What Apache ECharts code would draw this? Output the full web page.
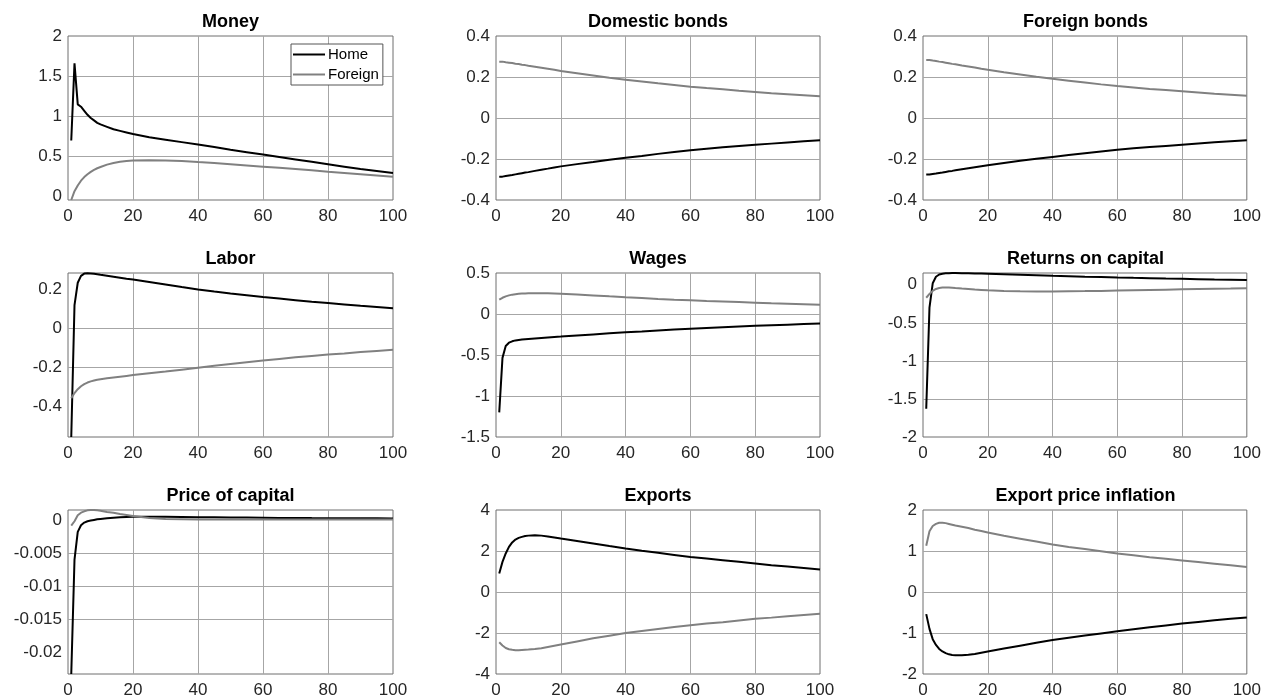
<!DOCTYPE html>
<html>
<head>
<meta charset="utf-8">
<script src="https://cdn.jsdelivr.net/npm/echarts@6/dist/echarts.min.js"></script>
<style>html,body{margin:0;padding:0;background:#fff}#c{width:1264px;height:699px}</style>
</head>
<body>
<div id="c"></div>
<script>
const xs = [1,2,3,4,5,6,7,8,9,10,12,14,16,18,20,25,30,35,40,45,50,55,60,65,70,75,80,85,90,95,100];
const xTicks = [0,20,40,60,80,100];
const titles = ['Money','Domestic bonds','Foreign bonds','Labor','Wages','Returns on capital','Price of capital','Exports','Export price inflation'];
const seriesNames = ['Home','Foreign'];

const moneyHome = [0.70,1.66,1.15,1.12,1.07,1.02,0.98,0.95,0.92,0.90,0.87,0.84,0.82,0.80,0.78,0.74,0.71,0.68,0.65,0.62,0.585,0.555,0.525,0.495,0.465,0.435,0.405,0.375,0.345,0.32,0.295];
const moneyForeign = [-0.04,0.07,0.14,0.20,0.245,0.28,0.31,0.335,0.355,0.37,0.40,0.42,0.435,0.445,0.45,0.455,0.452,0.445,0.432,0.42,0.405,0.39,0.375,0.36,0.345,0.33,0.31,0.295,0.28,0.265,0.25];
const domBondsHome = [-0.286,-0.286,-0.283,-0.280,-0.278,-0.275,-0.272,-0.269,-0.266,-0.264,-0.258,-0.252,-0.247,-0.241,-0.236,-0.225,-0.215,-0.204,-0.194,-0.185,-0.175,-0.166,-0.157,-0.150,-0.143,-0.137,-0.131,-0.125,-0.119,-0.114,-0.109];
const domBondsForeign = [0.275,0.275,0.272,0.270,0.268,0.265,0.263,0.260,0.258,0.255,0.250,0.245,0.240,0.235,0.229,0.218,0.207,0.196,0.187,0.178,0.169,0.161,0.153,0.146,0.140,0.133,0.127,0.121,0.116,0.111,0.106];
const forBondsHome = [-0.276,-0.276,-0.273,-0.271,-0.268,-0.266,-0.263,-0.260,-0.258,-0.255,-0.250,-0.245,-0.240,-0.235,-0.230,-0.219,-0.208,-0.199,-0.190,-0.181,-0.172,-0.163,-0.155,-0.148,-0.142,-0.136,-0.130,-0.124,-0.118,-0.113,-0.108];
const forBondsForeign = [0.283,0.283,0.280,0.278,0.275,0.273,0.270,0.267,0.264,0.262,0.256,0.251,0.246,0.240,0.235,0.223,0.212,0.201,0.191,0.182,0.173,0.164,0.156,0.149,0.142,0.136,0.130,0.124,0.118,0.113,0.108];
const laborHome = [-0.555,0.12,0.235,0.27,0.282,0.284,0.283,0.281,0.279,0.276,0.271,0.266,0.261,0.256,0.252,0.239,0.226,0.213,0.201,0.19,0.18,0.171,0.162,0.154,0.146,0.138,0.131,0.124,0.117,0.111,0.105];
const laborForeign = [-0.356,-0.33,-0.31,-0.295,-0.284,-0.276,-0.27,-0.266,-0.262,-0.259,-0.254,-0.25,-0.246,-0.242,-0.238,-0.229,-0.22,-0.21,-0.2,-0.19,-0.181,-0.172,-0.163,-0.155,-0.147,-0.14,-0.133,-0.127,-0.12,-0.114,-0.108];
const wagesHome = [-1.2,-0.535,-0.39,-0.35,-0.333,-0.322,-0.316,-0.311,-0.307,-0.304,-0.298,-0.292,-0.286,-0.28,-0.275,-0.262,-0.249,-0.236,-0.224,-0.213,-0.201,-0.19,-0.18,-0.17,-0.161,-0.152,-0.144,-0.137,-0.13,-0.123,-0.117];
const wagesForeign = [0.175,0.198,0.215,0.227,0.236,0.242,0.246,0.249,0.251,0.253,0.254,0.254,0.252,0.249,0.246,0.237,0.227,0.215,0.204,0.194,0.184,0.175,0.167,0.159,0.152,0.145,0.138,0.131,0.125,0.119,0.113];
const returnsHome = [-1.63,-0.30,0.02,0.105,0.135,0.146,0.151,0.153,0.154,0.154,0.153,0.152,0.15,0.148,0.146,0.14,0.133,0.126,0.119,0.113,0.107,0.102,0.096,0.091,0.087,0.082,0.078,0.074,0.07,0.067,0.064];
const returnsForeign = [-0.17,-0.12,-0.08,-0.055,-0.042,-0.036,-0.035,-0.036,-0.039,-0.043,-0.05,-0.056,-0.062,-0.067,-0.072,-0.08,-0.085,-0.087,-0.087,-0.085,-0.083,-0.08,-0.076,-0.072,-0.068,-0.064,-0.06,-0.056,-0.052,-0.049,-0.045];
const priceKHome = [-0.02325,-0.006,-0.0018,-0.0008,-0.0004,-0.0002,-0.0001,0.0,0.0001,0.00015,0.00025,0.00033,0.0004,0.00045,0.0005,0.0005,0.00048,0.00045,0.00042,0.0004,0.00037,0.00035,0.00033,0.00031,0.0003,0.00028,0.00027,0.00026,0.00025,0.00024,0.00023];
const priceKForeign = [-0.00085,-0.0002,0.0007,0.0011,0.0013,0.00145,0.0015,0.0015,0.00145,0.0014,0.0012,0.0011,0.0009,0.00075,0.0006,0.0003,0.00015,0.0001,0.00005,0.00005,0.00005,0.00005,0.00005,0.00005,0.00005,0.00005,0.00005,0.00005,0.00005,0.00005,0.00005];
const exportsHome = [0.9,1.47,1.88,2.2,2.42,2.56,2.64,2.69,2.73,2.75,2.77,2.75,2.71,2.66,2.61,2.49,2.37,2.24,2.12,2.01,1.91,1.81,1.71,1.63,1.55,1.47,1.39,1.31,1.24,1.17,1.1];
const exportsForeign = [-2.45,-2.61,-2.73,-2.79,-2.82,-2.84,-2.84,-2.83,-2.82,-2.81,-2.78,-2.74,-2.68,-2.62,-2.56,-2.41,-2.26,-2.13,-2.0,-1.9,-1.8,-1.71,-1.62,-1.54,-1.47,-1.39,-1.31,-1.25,-1.18,-1.12,-1.06];
const expInflHome = [-0.54,-0.9,-1.15,-1.29,-1.39,-1.45,-1.49,-1.52,-1.535,-1.54,-1.54,-1.53,-1.51,-1.48,-1.45,-1.38,-1.31,-1.24,-1.17,-1.115,-1.06,-1.01,-0.96,-0.91,-0.86,-0.815,-0.77,-0.73,-0.69,-0.655,-0.62];
const expInflForeign = [1.13,1.48,1.61,1.66,1.69,1.69,1.68,1.66,1.64,1.62,1.59,1.56,1.52,1.49,1.45,1.37,1.30,1.23,1.16,1.10,1.05,0.995,0.94,0.895,0.85,0.81,0.77,0.73,0.69,0.65,0.61];

const homeData = [moneyHome, domBondsHome, forBondsHome, laborHome, wagesHome, returnsHome, priceKHome, exportsHome, expInflHome];
const foreignData = [moneyForeign, domBondsForeign, forBondsForeign, laborForeign, wagesForeign, returnsForeign, priceKForeign, exportsForeign, expInflForeign];

const yMins = [-0.04, -0.4, -0.4, -0.555, -1.5, -2, -0.02325, -4, -2];
const yMaxs = [2, 0.4, 0.4, 0.285, 0.5, 0.155, 0.0015, 4, 2];
const yTicks = [
  [0,0.5,1,1.5,2],
  [-0.4,-0.2,0,0.2,0.4],
  [-0.4,-0.2,0,0.2,0.4],
  [-0.4,-0.2,0,0.2],
  [-1.5,-1,-0.5,0,0.5],
  [-2,-1.5,-1,-0.5,0],
  [-0.02,-0.015,-0.01,-0.005,0],
  [-4,-2,0,2,4],
  [-2,-1,0,1,2]
];

// layout
const colLeft = [68, 496, 923];
const colWidth = [325, 324, 325];
const rowTop = [36, 273, 510];
const rowHeight = [164, 164, 165];
const titleTop = [13, 250, 487];

const FONT = '"Liberation Sans", Arial, Helvetica, sans-serif';
const grid = [], xAxis = [], yAxis = [], series = [], title = [];
const fmt = v => String(+(+v).toFixed(6));

for (let i = 0; i < 9; i++) {
  const r = Math.floor(i / 3), c = i % 3;
  grid.push({left: colLeft[c], top: rowTop[r], width: colWidth[c], height: rowHeight[r],
    show: true, borderColor: '#6f6f6f', borderWidth: 1, backgroundColor: 'rgba(0,0,0,0)', containLabel: false});
  title.push({text: titles[i], left: colLeft[c] + colWidth[c] / 2, top: titleTop[r], textAlign: 'center', padding: 0,
    textStyle: {fontFamily: FONT, fontSize: 18, fontWeight: 'bold', color: '#000'}});
  xAxis.push({type: 'value', gridIndex: i, min: 0, max: 100,
    axisLine: {show: false}, axisTick: {show: false, customValues: xTicks},
    axisLabel: {customValues: xTicks, margin: 8, fontFamily: FONT, fontSize: 17, color: '#262626', formatter: fmt},
    splitLine: {show: true, showMinLine: false, showMaxLine: false, lineStyle: {color: '#a6a6a6', width: 1}}});
  yAxis.push({type: 'value', gridIndex: i, min: yMins[i], max: yMaxs[i],
    axisLine: {show: false}, axisTick: {show: false, customValues: yTicks[i]},
    axisLabel: {customValues: yTicks[i], margin: 6, fontFamily: FONT, fontSize: 17, color: '#262626', formatter: fmt, showMinLabel: true, showMaxLabel: true},
    splitLine: {show: true, showMinLine: false, showMaxLine: false, lineStyle: {color: '#a6a6a6', width: 1}}});
  series.push({name: seriesNames[0], type: 'line', xAxisIndex: i, yAxisIndex: i, symbol: 'none', animation: false,
    lineStyle: {color: '#000000', width: 2}, itemStyle: {color: '#000000'},
    data: xs.map((x, k) => [x, homeData[i][k]])});
  series.push({name: seriesNames[1], type: 'line', xAxisIndex: i, yAxisIndex: i, symbol: 'none', animation: false,
    lineStyle: {color: '#808080', width: 2}, itemStyle: {color: '#808080'},
    data: xs.map((x, k) => [x, foreignData[i][k]])});
}

const chart = echarts.init(document.getElementById('c'), null, {renderer: 'canvas'});
chart.setOption({
  animation: false,
  backgroundColor: '#ffffff',
  title, grid, xAxis, yAxis, series,
  legend: {data: seriesNames, orient: 'vertical', left: 291, top: 44, icon: 'rect', itemWidth: 32, itemHeight: 2, itemGap: 5,
    padding: [3, 4, 3, 2], borderColor: '#555', borderWidth: 1, backgroundColor: '#fff', borderRadius: 0,
    textStyle: {fontFamily: FONT, fontSize: 15, color: '#000', padding: [0, 0, 0, -2]}, selectedMode: false}
});
</script>
</body>
</html>
